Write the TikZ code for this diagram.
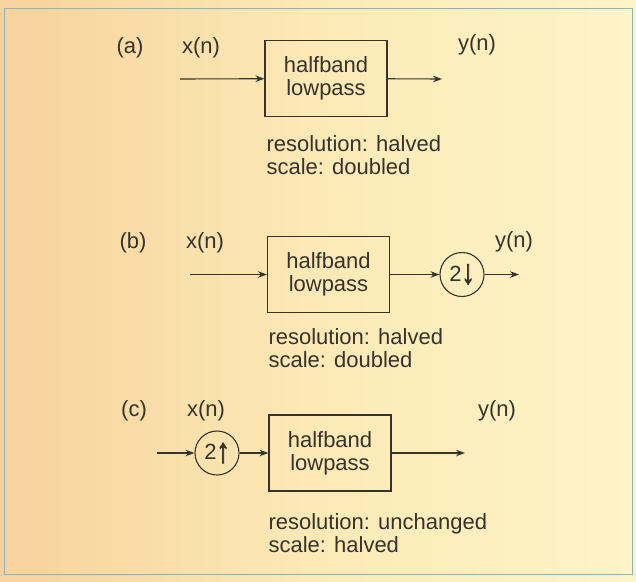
\documentclass[tikz,border=0pt]{standalone}
\usepackage{fontspec}
\setmainfont{Liberation Sans}
\newfontfamily\ratefont[FakeBold=2.5]{Liberation Sans Bold}
\usetikzlibrary{positioning, arrows.meta}

\definecolor{bgleft}{RGB}{247,210,156}
\definecolor{bgmid}{RGB}{252,234,182}
\definecolor{bgright}{RGB}{253,244,200}
\definecolor{frame}{RGB}{140,180,192}
\definecolor{ink}{RGB}{55,50,42}

\newcommand{\rate}[1]{\raisebox{-0.2ex}{\scalebox{1.2}[1.55]{\ratefont #1}}}

\tikzset{
    filter/.style={draw=ink, line width=1.1pt, minimum width=122pt, minimum height=76pt, align=center, font=\fontsize{22}{23}\selectfont},
    resampler/.style={draw=ink, circle, line width=1.1pt, minimum size=44pt, inner sep=0pt, font=\fontsize{22}{23}\selectfont},
    lbl/.style={font=\fontsize{22}{23}\selectfont, inner sep=0pt},
    note/.style={font=\fontsize{22}{23}\selectfont, align=left, anchor=west, inner sep=0pt}
}

\begin{document}
\begin{tikzpicture}[x=1pt, y=-1pt, ink, ->, >={Stealth[length=9pt, width=6.5pt]}, line width=1.1pt]
    \shade[left color=bgleft, right color=bgright, middle color=bgmid] (0,0) rectangle (636,581);
    \draw[-, frame, line width=1pt] (4,8) rectangle (632,574);

    % (a) halfband lowpass only
    \node[lbl] (tagA) at (130,48) {(a)};
    \node[lbl] (xA) at (201,48) {x(n)};
    \node[filter] (lpA) at (326,78.5) {halfband\\lowpass};
    \node[lbl] (yA) at (477,45) {y(n)};
    \coordinate (inA) at (180,79);
    \coordinate (outA) at (442,79);
    \node[note] (noteA) at (266,155) {resolution: halved\\scale: doubled};
    \draw (inA) -- (lpA);
    \draw (lpA) -- (outA);

    % (b) lowpass, then downsample
    \node[lbl] (tagB) at (133,243) {(b)};
    \node[lbl] (xB) at (205,243) {x(n)};
    \node[filter] (lpB) at (328.5,274.5) {halfband\\lowpass};
    \node[resampler] (downB) at (462,274.5) {2\rate{↓}};
    \node[lbl] (yB) at (514,242) {y(n)};
    \coordinate (inB) at (190,274.5);
    \coordinate (outB) at (519,274.5);
    \node[note] (noteB) at (268,348) {resolution: halved\\scale: doubled};
    \draw (inB) -- (lpB);
    \draw (lpB) -- (downB);
    \draw (downB) -- (outB);

    % (c) upsample, then lowpass
    \node[lbl] (tagC) at (134,411) {(c)};
    \node[lbl] (xC) at (206,411) {x(n)};
    \node[resampler] (upC) at (217,453) {2\rate{↑}};
    \node[filter] (lpC) at (330,453) {halfband\\lowpass};
    \node[lbl] (yC) at (497,411) {y(n)};
    \coordinate (inC) at (157,453);
    \coordinate (outC) at (465,453);
    \node[note] (noteC) at (268,533) {resolution: unchanged\\scale: halved};
    \draw (inC) -- (upC);
    \draw (upC) -- (lpC);
    \draw (lpC) -- (outC);
\end{tikzpicture}
\end{document}
